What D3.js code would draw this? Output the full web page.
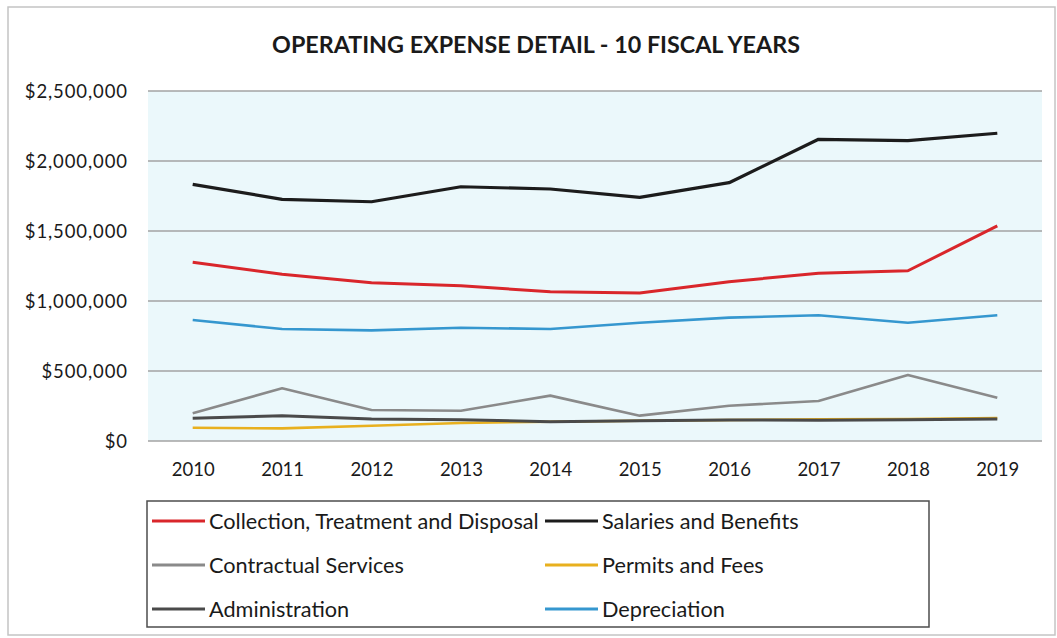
<!DOCTYPE html>
<html>
<head>
<meta charset="utf-8">
<script src="https://cdn.jsdelivr.net/npm/d3@7"></script>
<style>
  html, body { margin: 0; padding: 0; background: #fff; }
  svg { display: block; font-family: "Lato", "Open Sans", sans-serif; }
</style>
</head>
<body>
<svg id="chart" width="1057" height="638"></svg>
<script>
// Fiscal years on the x axis
const years = ["2010","2011","2012","2013","2014","2015","2016","2017","2018","2019"];

// Annual expense by category (USD)
const collectionTreatmentDisposal = [1276000,1191000,1131000,1109000,1066000,1057000,1138000,1198000,1216000,1536000];
const salariesBenefits            = [1833000,1726000,1709000,1816000,1800000,1740000,1845000,2155000,2145000,2198000];
const contractualServices         = [198000,376000,221000,216000,324000,181000,252000,286000,471000,309000];
const permitsFees                 = [95000,90000,109000,129000,138000,145000,150000,155000,157000,164000];
const administration              = [162000,181000,157000,152000,138000,145000,150000,148000,152000,157000];
const depreciation                = [864000,800000,790000,809000,800000,845000,881000,898000,845000,898000];

// Y axis ticks
const yTicks = [0,500000,1000000,1500000,2000000,2500000];

const series = [
  { name: "Collection, Treatment and Disposal", values: collectionTreatmentDisposal, color: "#d9262b", width: 3 },
  { name: "Salaries and Benefits",              values: salariesBenefits,            color: "#1c1c1c", width: 3.2 },
  { name: "Contractual Services",               values: contractualServices,         color: "#8a8a8a", width: 2.6 },
  { name: "Permits and Fees",                   values: permitsFees,                 color: "#e8b01e", width: 2.6 },
  { name: "Administration",                     values: administration,              color: "#4a4a4a", width: 3 },
  { name: "Depreciation",                       values: depreciation,                color: "#3597cf", width: 2.6 }
];

const svg = d3.select("#chart");

// Outer chart frame
svg.append("rect")
  .attr("x", 8).attr("y", 7).attr("width", 1047).attr("height", 628)
  .attr("fill", "#fff").attr("stroke", "#c4c4c4").attr("stroke-width", 1.5);

// Title
svg.append("text")
  .attr("x", 536).attr("y", 53)
  .attr("text-anchor", "middle")
  .attr("font-weight", "bold").attr("font-size", 23.3)
  .attr("fill", "#1a1a1a")
  .text("OPERATING EXPENSE DETAIL - 10 FISCAL YEARS");

const plot = { left: 148, right: 1042, top: 91, bottom: 441 };

const x = d3.scalePoint().domain(years).range([plot.left, plot.right]).padding(0.5);
const y = d3.scaleLinear().domain([0, 2500000]).range([plot.bottom, plot.top]);

// Plot background
svg.append("rect")
  .attr("x", plot.left).attr("y", plot.top)
  .attr("width", plot.right - plot.left).attr("height", plot.bottom - plot.top)
  .attr("fill", "#ebf8fb");

// Gridlines
svg.append("g").selectAll("line").data(yTicks).join("line")
  .attr("x1", plot.left).attr("x2", plot.right)
  .attr("y1", d => y(d)).attr("y2", d => y(d))
  .attr("stroke", "#a3a3a3").attr("stroke-width", 1.5);

// Y axis labels
const fmt = d3.format("$,.0f");
const yAxis = d3.axisLeft(y).tickValues(yTicks).tickFormat(fmt).tickSize(0).tickPadding(0);
const gy = svg.append("g").attr("transform", `translate(128,0)`).call(yAxis);
gy.select(".domain").remove();
gy.selectAll("text")
  .attr("font-family", "Lato, 'Open Sans', sans-serif")
  .attr("font-size", 18.5).attr("letter-spacing", 0.9)
  .attr("fill", "#1a1a1a").attr("dy", "0.35em");

// X axis labels
const xAxis = d3.axisBottom(x).tickSize(0).tickPadding(0);
const gx = svg.append("g").attr("transform", `translate(0,${plot.bottom + 22})`).call(xAxis);
gx.select(".domain").remove();
gx.selectAll("text")
  .attr("font-family", "Lato, 'Open Sans', sans-serif")
  .attr("font-size", 18.5).attr("fill", "#1a1a1a").attr("dy", "0.71em");

// Series lines
const line = d3.line().x((d, i) => x(years[i])).y(d => y(d));
svg.append("g").selectAll("path").data(series).join("path")
  .attr("d", s => line(s.values))
  .attr("fill", "none")
  .attr("stroke", s => s.color)
  .attr("stroke-width", s => s.width)
  .attr("stroke-linejoin", "round")
  .attr("stroke-linecap", "butt");

// Legend
const legend = svg.append("g");
legend.append("rect")
  .attr("x", 147).attr("y", 501).attr("width", 782).attr("height", 126)
  .attr("fill", "#fff").attr("stroke", "#4d4d4d").attr("stroke-width", 1.5);

const colX = [152, 545];
const rowY = [521, 565, 609];
const items = legend.selectAll("g.item").data(series).join("g")
  .attr("class", "item")
  .attr("transform", (d, i) => `translate(${colX[i % 2]},${rowY[Math.floor(i / 2)]})`);
items.append("line")
  .attr("x1", 0).attr("x2", 53).attr("y1", 0).attr("y2", 0)
  .attr("stroke", d => d.color).attr("stroke-width", 3);
items.append("text")
  .attr("x", 57).attr("y", 0).attr("dy", "0.35em")
  .attr("font-size", 21.7).attr("fill", "#1a1a1a")
  .text(d => d.name);
</script>
</body>
</html>
